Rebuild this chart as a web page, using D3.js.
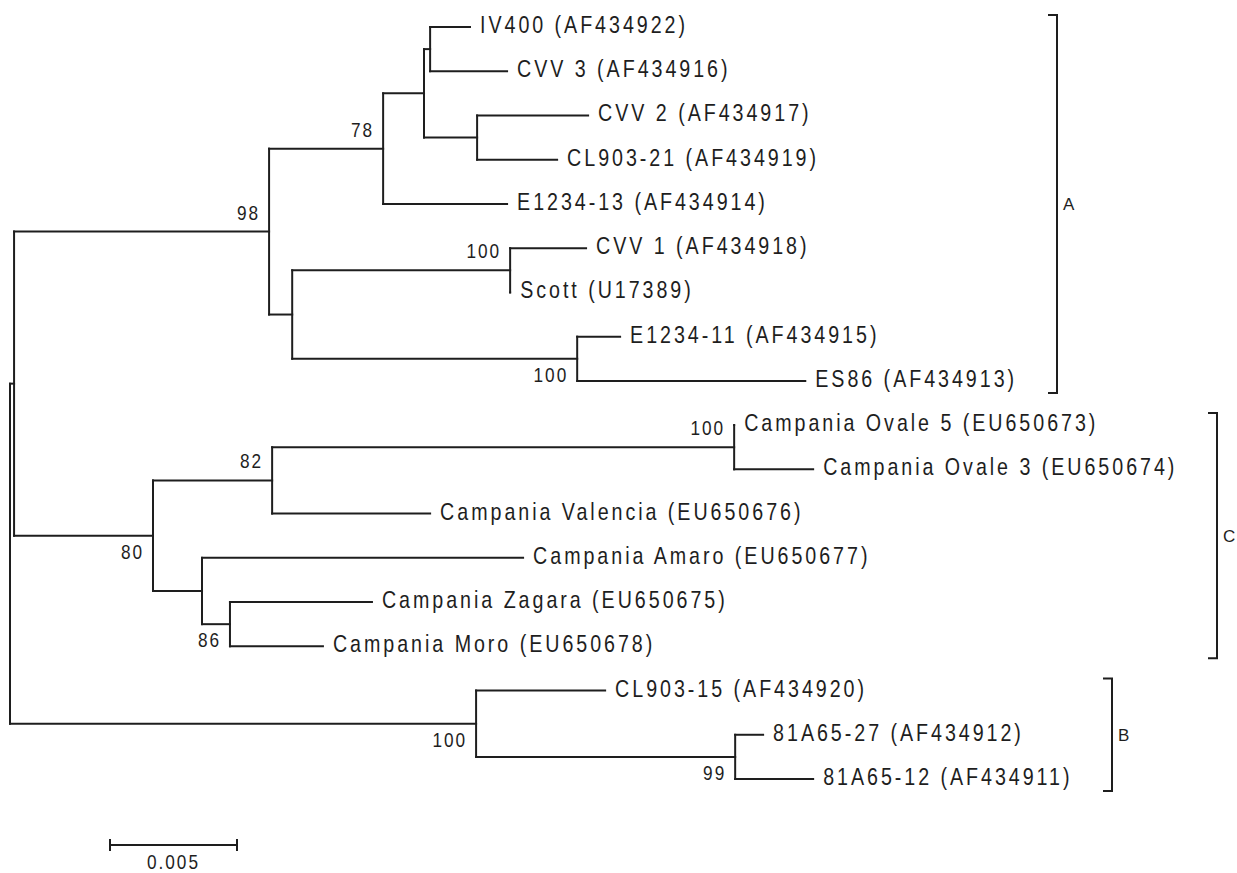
<!DOCTYPE html>
<html>
<head>
<meta charset="utf-8">
<script src="https://cdn.jsdelivr.net/npm/d3@7"></script>
<style>
  body { margin: 0; background: #fff; }
  .tip { font-family: "Liberation Sans", Arial, sans-serif; font-size: 24px; letter-spacing: 3.6px; fill: #1e1e1e; }
  .boot { font-family: "Liberation Sans", Arial, sans-serif; font-size: 21px; letter-spacing: 2.4px; fill: #1e1e1e; }
  .clade { font-family: "Liberation Sans", Arial, sans-serif; font-size: 17px; fill: #1e1e1e; }
</style>
</head>
<body>
<div id="tree"></div>
<script>
// tree table: node id, parent id, branch length (substitutions/site), bootstrap support
const nodeId = [
  "root", "AC", "A", "A78", "Au", "Aiv",
  "IV400 (AF434922)", "CVV 3 (AF434916)", "Acvv2",
  "CVV 2 (AF434917)", "CL903-21 (AF434919)", "E1234-13 (AF434914)",
  "Al", "Acvv1", "CVV 1 (AF434918)", "Scott (U17389)",
  "Aes", "E1234-11 (AF434915)", "ES86 (AF434913)",
  "C", "C82", "Cov", "Campania Ovale 5 (EU650673)", "Campania Ovale 3 (EU650674)",
  "Campania Valencia (EU650676)", "Cam", "Campania Amaro (EU650677)",
  "C86", "Campania Zagara (EU650675)", "Campania Moro (EU650678)",
  "B", "CL903-15 (AF434920)", "B99", "81A65-27 (AF434912)", "81A65-12 (AF434911)"
];
const parentId = [
  "", "root", "AC", "A", "A78", "Au",
  "Aiv", "Aiv", "Au",
  "Acvv2", "Acvv2", "A78",
  "A", "Al", "Acvv1", "Acvv1",
  "Al", "Aes", "Aes",
  "AC", "C", "C82", "Cov", "Cov",
  "C82", "C", "Cam",
  "Cam", "C86", "C86",
  "root", "B", "B", "B99", "B99"
];
const branchLength = [
  0, 0.00016, 0.01004, 0.00449, 0.00161, 0.00024,
  0.00157, 0.00303, 0.00209,
  0.00437, 0.00315, 0.00488,
  0.00091, 0.00858, 0.00299, 0.0,
  0.01122, 0.00169, 0.00898,
  0.00547, 0.00469, 0.01819, 0.0, 0.00311,
  0.00622, 0.00193, 0.01264,
  0.0011, 0.00559, 0.00366,
  0.01835, 0.00508, 0.0102, 0.0011, 0.00307
];
const support = [
  null, null, 98, 78, null, null,
  null, null, null,
  null, null, null,
  null, 100, null, null,
  100, null, null,
  80, 82, 100, null, null,
  null, null, null,
  86, null, null,
  100, null, 99, null, null
];
const supportSide = [
  "", "", "up", "up", "", "",
  "", "", "",
  "", "", "",
  "", "up", "", "",
  "down", "", "",
  "down", "up", "up", "", "",
  "", "", "",
  "down", "", "",
  "down", "", "down", "", ""
];

// clade brackets
const cladeNames = ["A", "C", "B"];
const cladeFirst = ["IV400 (AF434922)", "Campania Ovale 5 (EU650673)", "CL903-15 (AF434920)"];
const cladeLast  = ["ES86 (AF434913)", "Campania Moro (EU650678)", "81A65-12 (AF434911)"];

const scaleBarValue = 0.005;

const width = 1237, height = 873;
const squeeze = 0.82; // the original uses a narrow bitmap font

const svg = d3.select('#tree').append('svg')
    .attr('width', width)
    .attr('height', height)
    .style('display', 'block');

const table = nodeId.map((id, i) => ({
  id: id, parent: parentId[i] || null, length: branchLength[i],
  support: support[i], side: supportSide[i]
}));

const root = d3.stratify()
    .id(d => d.id)
    .parentId(d => d.parent)(table);

// distance from the root -> x
const x = d3.scaleLinear().domain([0, 0.005]).range([10, 137]);
root.eachBefore(d => { d.dist = (d.parent ? d.parent.dist : 0) + d.data.length; });

// leaves evenly spaced -> y, internal nodes at the middle of their children
const y = d3.scalePoint()
    .domain(root.leaves().map(d => d.id))
    .range([27, 779]);
root.eachAfter(d => {
  d.py = d.children
    ? (d.children[0].py + d.children[d.children.length - 1].py) / 2
    : y(d.id);
  d.px = x(d.dist);
});

const g = svg.append('g')
    .attr('fill', 'none')
    .attr('stroke', '#1e1e1e')
    .attr('stroke-width', 2)
    .attr('stroke-linecap', 'square');

// horizontal branches
g.selectAll('path.h')
  .data(root.descendants().filter(d => d.parent))
  .enter().append('path')
    .attr('d', d => `M${d.parent.px},${d.py}H${d.px}`);

// vertical connectors
g.selectAll('path.v')
  .data(root.descendants().filter(d => d.children))
  .enter().append('path')
    .attr('d', d => `M${d.px},${d.children[0].py}V${d.children[d.children.length - 1].py}`);

// tip labels
const tips = svg.selectAll('text.tip')
  .data(root.leaves())
  .enter().append('text')
    .attr('class', 'tip')
    .attr('transform', d => `translate(${d.px + 10},${d.py + 6}) scale(${squeeze},1)`)
    .text(d => d.id);

// bootstrap values
svg.selectAll('text.boot')
  .data(root.descendants().filter(d => d.data.support != null))
  .enter().append('text')
    .attr('class', 'boot')
    .attr('text-anchor', 'end')
    .attr('transform', d => `translate(${d.px - 9},${d.data.side === 'up' ? d.py - 12 : d.py + 23}) scale(${squeeze},1)`)
    .text(d => d.data.support);

// clade brackets
const tipRight = {};
tips.each(function(d) { tipRight[d.id] = d.px + 10 + this.getBBox().width * squeeze; });
const leafIds = root.leaves().map(d => d.id);

cladeNames.forEach((name, i) => {
  const i0 = leafIds.indexOf(cladeFirst[i]), i1 = leafIds.indexOf(cladeLast[i]);
  const members = leafIds.slice(i0, i1 + 1);
  const bx = Math.round(d3.max(members, id => tipRight[id]) + 40);
  const y0 = y(cladeFirst[i]) - 12, y1 = y(cladeLast[i]) + 12;
  svg.append('path')
      .attr('fill', 'none')
      .attr('stroke', '#1e1e1e')
      .attr('stroke-width', 2)
      .attr('d', `M${bx - 9},${y0}H${bx}V${y1}H${bx - 9}`);
  svg.append('text')
      .attr('class', 'clade')
      .attr('x', bx + 6)
      .attr('y', (y0 + y1) / 2 + 6)
      .text(name);
});

// scale bar
const barLen = x(scaleBarValue) - x(0);
const bar = svg.append('g').attr('transform', 'translate(110,845)');
bar.append('path')
    .attr('fill', 'none')
    .attr('stroke', '#1e1e1e')
    .attr('stroke-width', 2)
    .attr('d', `M0,0H${barLen}M0,-6V6M${barLen},-6V6`);
bar.append('text')
    .attr('class', 'boot')
    .attr('text-anchor', 'middle')
    .attr('transform', `translate(${barLen / 2},24) scale(${squeeze},1)`)
    .text(scaleBarValue);
</script>
</body>
</html>
